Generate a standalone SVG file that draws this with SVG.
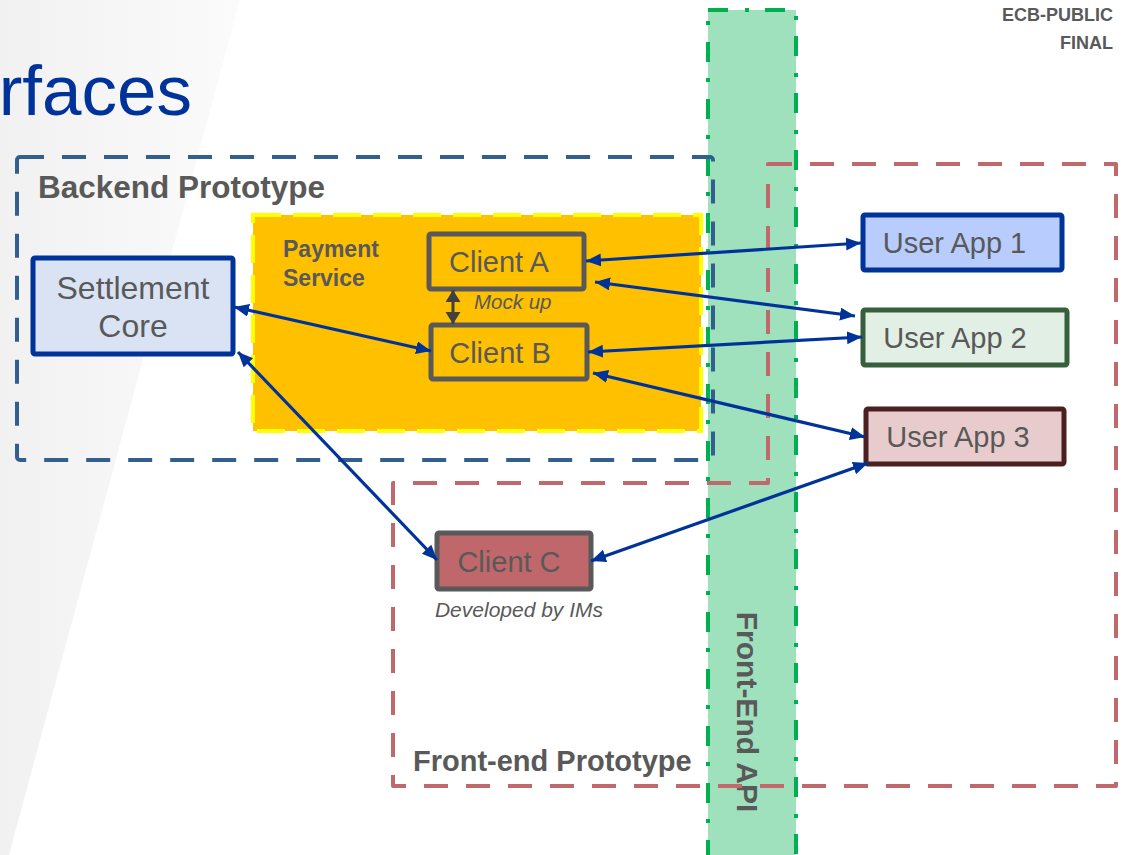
<svg xmlns="http://www.w3.org/2000/svg" width="1126" height="855" viewBox="0 0 1126 855">
<defs>
<linearGradient id="bg" x1="0" y1="0" x2="1" y2="0">
<stop offset="0" stop-color="#f1f1f1"/>
<stop offset="1" stop-color="#fbfbfb"/>
</linearGradient>
<marker id="ah" markerUnits="userSpaceOnUse" markerWidth="16" markerHeight="14" refX="15" refY="6.5" orient="auto-start-reverse">
<path d="M0,0 L15,6.5 L0,13 z" fill="#003399"/>
</marker>
<marker id="gh" markerUnits="userSpaceOnUse" markerWidth="14" markerHeight="16" refX="12" refY="7.5" orient="auto-start-reverse">
<path d="M0,0 L12,7.5 L0,15 z" fill="#404040"/>
</marker>
<style>
text{font-family:"Liberation Sans",Arial,sans-serif;fill:#595959}
.b{font-weight:bold}
.i{font-style:italic}
.box{stroke-width:5}
.lbl{font-size:29px;text-anchor:middle}
.con{stroke:#003399;stroke-width:3.2;fill:none;marker-start:url(#ah);marker-end:url(#ah)}
</style>
</defs>
<rect width="1126" height="855" fill="#ffffff"/>
<polygon points="0,0 240,0 9,855 0,855" fill="url(#bg)"/>
<text x="192" y="115" font-size="71" text-anchor="end" style="fill:#003399">rfaces</text>
<text x="1113" y="21" font-size="18" text-anchor="end" class="b">ECB-PUBLIC</text>
<text x="1113" y="49" font-size="18" text-anchor="end" class="b">FINAL</text>

<g id="payment-service">
<rect x="253" y="215" width="448" height="216" fill="#ffc000" stroke="#ffff00" stroke-width="4" stroke-dasharray="28 12"/>
<text x="283" y="257" font-size="23" class="b">Payment</text>
<text x="283" y="286" font-size="23" class="b">Service</text>
</g>

<g id="front-end-api">
<rect x="708" y="10" width="88" height="850" fill="#a0e1bd" stroke="#00b050" stroke-width="4" stroke-dasharray="20 17 4 16"/>
<text transform="translate(737,712) rotate(90)" font-size="30" text-anchor="middle" class="b">Front-End API</text>
</g>

<g id="backend-prototype">
<rect x="17" y="157" width="696" height="303" rx="3" fill="none" stroke="#335f8f" stroke-width="4" stroke-dasharray="24 18"/>
<text x="38" y="198" font-size="31.5" class="b">Backend Prototype</text>
</g>

<g id="frontend-prototype">
<path d="M768,164 L1116,164 L1116,786 L393,786 L393,483 L768,483 Z" fill="none" stroke="#c0686c" stroke-width="4" stroke-dasharray="24 18" stroke-linejoin="round"/>
<text x="413" y="771" font-size="29" class="b">Front-end Prototype</text>
</g>

<g id="settlement-core">
<rect x="33" y="258" width="200" height="96" rx="2" fill="#dae3f3" stroke="#003399" class="box"/>
<text x="133" y="299" class="lbl" style="font-size:32px">Settlement</text>
<text x="133" y="337" class="lbl" style="font-size:32px">Core</text>
</g>

<g id="client-a">
<rect x="429" y="234" width="155" height="55" rx="2" fill="#ffc000" stroke="#595959" class="box"/>
<text x="499" y="272" class="lbl">Client A</text>
</g>

<g id="mock-up">
<text x="474" y="309" font-size="20.5" class="i">Mock up</text>
</g>

<g id="client-b">
<rect x="431" y="325" width="156" height="54" rx="2" fill="#ffc000" stroke="#595959" class="box"/>
<text x="500" y="363" class="lbl">Client B</text>
</g>

<g id="client-c">
<rect x="437" y="533" width="154" height="56" rx="2" fill="#c0676b" stroke="#595959" class="box"/>
<text x="509" y="572" class="lbl">Client C</text>
<text x="519" y="617" font-size="21" text-anchor="middle" class="i">Developed by IMs</text>
</g>

<g id="user-app-1">
<rect x="863" y="215" width="199" height="55" rx="2" fill="#b8cdfd" stroke="#003399" class="box"/>
<text x="954.5" y="253" class="lbl">User App 1</text>
</g>

<g id="user-app-2">
<rect x="863" y="310" width="204" height="55" rx="2" fill="#e2efe4" stroke="#385f3c" class="box"/>
<text x="955" y="348" class="lbl">User App 2</text>
</g>

<g id="user-app-3">
<rect x="866" y="409" width="198" height="55" rx="2" fill="#e8cccd" stroke="#4b2020" class="box"/>
<text x="958" y="447" class="lbl">User App 3</text>
</g>

<g id="connectors">
<line x1="453" y1="290" x2="453" y2="324" stroke="#404040" stroke-width="3" marker-start="url(#gh)" marker-end="url(#gh)"/>
<line class="con" x1="586" y1="261" x2="861" y2="243"/>
<line class="con" x1="595" y1="282" x2="855" y2="316"/>
<line class="con" x1="588" y1="352" x2="862" y2="337"/>
<line class="con" x1="593" y1="373" x2="865" y2="437"/>
<line class="con" x1="234" y1="307" x2="431" y2="351"/>
<line class="con" x1="238" y1="352" x2="437" y2="560"/>
<line class="con" x1="591" y1="561" x2="868" y2="463"/>
</g>
</svg>
